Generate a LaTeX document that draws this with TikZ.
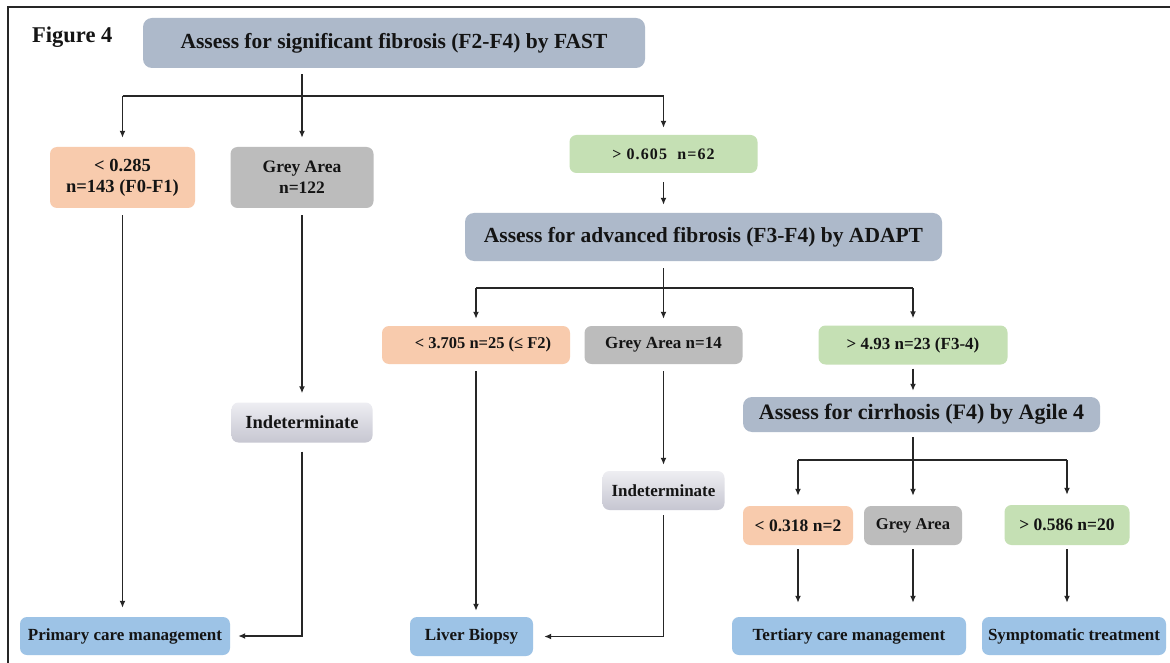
\documentclass[tikz,border=0pt]{standalone}
\usepackage{fontspec}
\setmainfont{Liberation Serif}
\usetikzlibrary{arrows.meta}

\definecolor{titlefill}{HTML}{ADB9CA}
\definecolor{lowfill}{HTML}{F8CBAD}
\definecolor{greyfill}{HTML}{BCBCBC}
\definecolor{highfill}{HTML}{C5E0B4}
\definecolor{endfill}{HTML}{9DC3E6}
\definecolor{indtop}{HTML}{EEEEF2}
\definecolor{indbot}{HTML}{C6C6D1}
\definecolor{ink}{HTML}{141414}
\definecolor{wirecol}{HTML}{262626}

% bold serif at a given size / baseline skip
\newcommand\fsz[2]{\fontsize{#1}{#2}\selectfont\bfseries}

\tikzset{
  box/.style={rounded corners=7pt, inner sep=0pt, align=center, text=ink},
  titlebox/.style={box, fill=titlefill, rounded corners=9pt},
  lowbox/.style={box, fill=lowfill},
  greybox/.style={box, fill=greyfill},
  highbox/.style={box, fill=highfill},
  endbox/.style={box, fill=endfill},
  indbox/.style={box, top color=indtop, bottom color=indbot},
  wire/.style={draw=wirecol, line width=1.6pt},
  arr/.style={wire, -{Latex[length=7pt,width=6pt]}},
  frameline/.style={draw=black!85, line width=1.3pt},
}

\begin{document}
\begin{tikzpicture}[x=1pt,y=-1pt]
\useasboundingbox (0,0) rectangle (1170,663);
\fill[white] (0,0) rectangle (1170,663);
\draw[frameline] (8,663) -- (8,7) -- (1170,7);

% caption
\node[anchor=base west, inner sep=0pt, text=ink, font=\fsz{22.5}{27}] (figlabel) at (32,43) {Figure 4};

% level 1: FAST
\node[titlebox, minimum width=502pt, minimum height=50pt, font=\fsz{21.5}{26}] (fast) at (394,43)
  {Assess for significant fibrosis (F2-F4) by FAST};
\node[lowbox, minimum width=145pt, minimum height=61pt, font=\fsz{18.5}{21}] (lo1) at (122.5,177.5)
  {< 0.285\\n=143 (F0-F1)};
\node[greybox, minimum width=143pt, minimum height=61pt, font=\fsz{17.5}{21}] (grey1) at (302,177.5)
  {Grey Area\\n=122};
\node[highbox, minimum width=188pt, minimum height=38pt, font=\fsz{16}{19}\addfontfeature{LetterSpace=7}] (gt1) at (663.5,154)
  {> 0.605\ \ n=62};

% level 2: ADAPT
\node[titlebox, minimum width=477pt, minimum height=48pt, font=\fsz{21.5}{26}] (adapt) at (703.5,237)
  {Assess for advanced fibrosis (F3-F4) by ADAPT};
\node[lowbox, minimum width=188pt, minimum height=38pt, font=\fsz{16.5}{20}] (lo2) at (476,345)
  {\hspace*{14pt}< 3.705 n=25 (≤ F2)};
\node[greybox, minimum width=158pt, minimum height=38pt, font=\fsz{17}{20}] (grey2) at (663.5,345)
  {Grey Area n=14};
\node[highbox, minimum width=189pt, minimum height=39pt, font=\fsz{17}{20}] (gt2) at (913,345)
  {> 4.93 n=23 (F3-4)};

% level 3: Agile 4
\node[titlebox, minimum width=357pt, minimum height=35pt, font=\fsz{22}{26}] (agile) at (921.5,414.5)
  {Assess for cirrhosis (F4) by Agile 4};
\node[lowbox, minimum width=110pt, minimum height=39pt, font=\fsz{17.5}{20}] (lo3) at (798,525.5)
  {< 0.318 n=2};
\node[greybox, minimum width=98pt, minimum height=39pt, font=\fsz{16.5}{20}] (grey3) at (913,525.5)
  {Grey Area};
\node[highbox, minimum width=125pt, minimum height=40pt, font=\fsz{17.5}{20}] (gt3) at (1067,525)
  {> 0.586 n=20};

% undecided results
\node[indbox, minimum width=141pt, minimum height=40pt, font=\fsz{18.5}{22}] (ind1) at (302,422.5)
  {Indeterminate};
\node[indbox, minimum width=122pt, minimum height=39pt, font=\fsz{17}{20}] (ind2) at (663.5,490.5)
  {Indeterminate};

% outcomes
\node[endbox, minimum width=210pt, minimum height=38pt, font=\fsz{17}{20}] (primary) at (125,636)
  {Primary care management};
\node[endbox, minimum width=123pt, minimum height=39pt, font=\fsz{17}{20}] (liver) at (471.5,636.5)
  {Liver Biopsy};
\node[endbox, minimum width=234pt, minimum height=38pt, font=\fsz{17}{20}] (tert) at (849,636)
  {Tertiary care management};
\node[endbox, minimum width=184pt, minimum height=38pt, font=\fsz{17}{20}] (symp) at (1074,636)
  {Symptomatic treatment};

% branch points
\coordinate (j1) at (302,96);
\coordinate (j2) at (663.5,288);
\coordinate (j3) at (913,460);

% FAST split
\draw[wire, shorten <=6pt] (fast.south -| j1) -- (j1);
\draw[wire] (j1 -| lo1) -- (j1 -| gt1);
\draw[arr, shorten >=9pt] (j1 -| lo1) -- (lo1.north);
\draw[arr, shorten >=9pt] (j1) -- (grey1.north);
\draw[arr, shorten >=7pt] (j1 -| gt1) -- (gt1.north);

\draw[arr, shorten <=7pt, shorten >=9pt] (lo1.south) -- (lo1.south |- primary.north);
\draw[arr, shorten <=7pt, shorten >=9pt] (grey1.south) -- (ind1.north);
\draw[arr, shorten <=9pt, shorten >=8pt] (ind1.south) |- (primary.east);
\draw[arr, shorten <=9pt, shorten >=8pt] (gt1.south) -- (adapt.north -| gt1);

% ADAPT split
\draw[wire, shorten <=7pt] (adapt.south -| j2) -- (j2);
\draw[wire] (j2 -| lo2) -- (j2 -| gt2);
\draw[arr, shorten >=7pt] (j2 -| lo2) -- (lo2.north);
\draw[arr, shorten >=7pt] (j2) -- (grey2.north);
\draw[arr, shorten >=7pt] (j2 -| gt2) -- (gt2.north);

\draw[arr, shorten <=7pt, shorten >=6pt] (lo2.south) -- (lo2.south |- liver.north);
\draw[arr, shorten <=7pt, shorten >=6pt] (grey2.south) -- (ind2.north);
\draw[arr, shorten <=5pt, shorten >=11pt] (ind2.south) |- (liver.east);
\draw[arr, shorten <=4pt, shorten >=6pt] (gt2.south) -- (agile.north -| gt2);

% Agile 4 split
\draw[wire, shorten <=5pt] (agile.south -| j3) -- (j3);
\draw[wire] (j3 -| lo3) -- (j3 -| gt3);
\draw[arr, shorten >=10pt] (j3 -| lo3) -- (lo3.north);
\draw[arr, shorten >=10pt] (j3) -- (grey3.north);
\draw[arr, shorten >=10pt] (j3 -| gt3) -- (gt3.north);

\draw[arr, shorten <=4pt, shorten >=14pt] (lo3.south) -- (lo3.south |- tert.north);
\draw[arr, shorten <=4pt, shorten >=14pt] (grey3.south) -- (grey3.south |- tert.north);
\draw[arr, shorten <=4pt, shorten >=14pt] (gt3.south) -- (gt3.south |- symp.north);
\end{tikzpicture}
\end{document}
